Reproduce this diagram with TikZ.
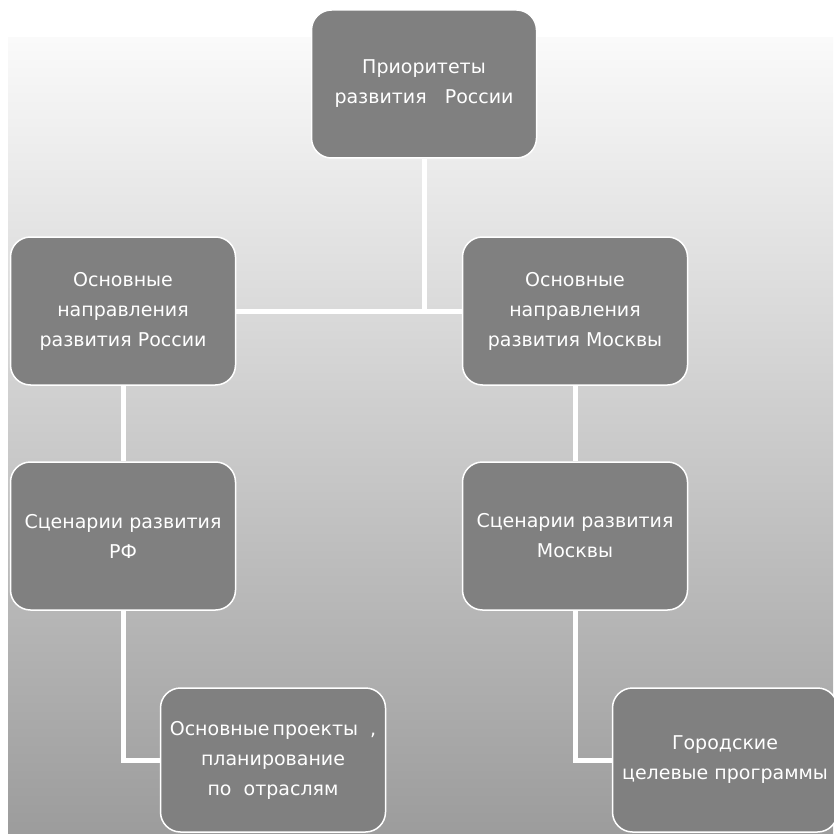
\documentclass[tikz,border=0pt]{standalone}
\usepackage{fontspec}
\setmainfont{DejaVu Sans}
\definecolor{boxgrey}{RGB}{128,128,128}
\definecolor{bgtop}{RGB}{250,250,250}
\definecolor{bgbot}{RGB}{156,156,156}
\tikzset{
  plan/.style={draw=white,line width=1.5pt,fill=boxgrey,rounded corners=20pt,
    minimum width=225pt,minimum height=148pt,inner sep=0pt,text=white,
    align=center,font=\fontsize{19}{30}\selectfont},
  link/.style={draw=white,line width=5pt}
}
\begin{document}
\begin{tikzpicture}[x=1pt,y=-1pt]
    \useasboundingbox (0,0) rectangle (833,834);
    \shade[top color=bgtop,bottom color=bgbot] (8,38) rectangle (833,834);
    \node[plan] (prio) at (424,84) {Приоритеты\\развития\ \ \ России};
    \node[plan] (rusdir) at (123,311) {Основные\\направления\\развития России};
    \node[plan] (mosdir) at (575,311) {Основные\\направления\\развития Москвы};
    \node[plan] (russcen) at (123,536) {Сценарии развития\\РФ};
    \node[plan] (mosscen) at (575,536) {Сценарии развития\\Москвы};
    \node[plan,minimum height=144pt] (rusproj) at (273,760)
    {Основные\,проекты\ \ ,\\планирование\\по\ \ отраслям};
    \node[plan,minimum height=144pt] (mosprog) at (725,760)
    {Городские\\целевые программы};
    \path[link] (rusdir.east) -- (mosdir.west);
    \path[link] (prio.south) -- (prio.south |- rusdir.east);
    \path[link] (rusdir.south) -- (russcen.north);
    \path[link] (mosdir.south) -- (mosscen.north);
    \path[link] (russcen.south) |- (rusproj.west);
    \path[link] (mosscen.south) |- (mosprog.west);
  \end{tikzpicture}
\end{document}
